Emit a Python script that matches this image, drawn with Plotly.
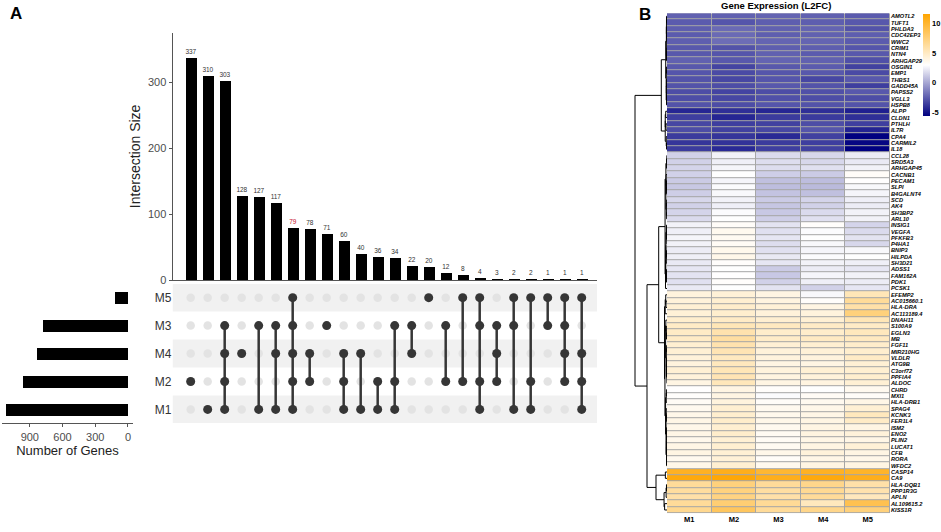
import numpy as np
import plotly.graph_objects as go

W, H = 941, 532
FONT = "Liberation Sans, Arial, sans-serif"

# ---------------- panel A : UpSet data ----------------
set_names = ["M1", "M2", "M4", "M3", "M5"]          # matrix rows, bottom -> top
set_size = [1115, 958, 832, 776, 118]

intersections = [
    ["M2"], ["M1"], ["M1", "M2", "M3", "M4"], ["M4"], ["M1", "M3"], ["M1", "M3", "M4"],
    ["M1", "M2", "M3", "M4", "M5"], ["M2", "M4"], ["M3"], ["M1", "M2", "M4"], ["M1", "M4"],
    ["M1", "M2"], ["M1", "M2", "M3"], ["M3", "M4"], ["M5"], ["M2", "M3"], ["M2", "M5"],
    ["M1", "M2", "M3", "M5"], ["M2", "M3", "M4"], ["M1", "M3", "M5"], ["M1", "M2", "M5"],
    ["M3", "M5"], ["M2", "M3", "M4", "M5"], ["M1", "M2", "M4", "M5"],
]
intersection_size = [337, 310, 303, 128, 127, 117, 79, 78, 71, 60, 40, 36,
                     34, 22, 20, 12, 8, 4, 3, 2, 2, 1, 1, 1]
highlight = 6          # the shared-by-all intersection, label in red

# ---------------- panel B : heatmap data ----------------
genes = [
    "AMOTL2", "TUFT1", "PHLDA3", "CDC42EP3", "WWC2", "CRIM1", "NTN4", "ARHGAP29",
    "OSGIN1", "EMP1", "THBS1", "GADD45A", "PAPSS2", "VGLL3", "HSPB8", "ALPP",
    "CLDN1", "PTHLH", "IL7R", "CPA4", "CARMIL2", "IL18", "CCL28", "SRD5A3",
    "ARHGAP45", "CACNB1", "PECAM1", "SLPI", "B4GALNT4", "SCD", "AK4", "SH3BP2",
    "ARL10", "INSIG1", "VEGFA", "PFKFB3", "P4HA1", "BNIP3", "HILPDA", "SH3D21",
    "ADSS1", "FAM162A", "PDK1", "PCSK1", "EFEMP2", "AC015660.1", "HLA-DRA",
    "AC113189.4", "DNAH11", "S100A9", "EGLN3", "MB", "FGF11", "MIR210HG", "VLDLR",
    "ATG9B", "C3orf72", "PPFIA4", "ALDOC", "CHRD", "MXI1", "HLA-DRB1", "SPAG4",
    "KCNK3", "FER1L4", "ISM2", "ENO2", "PLIN2", "LUCAT1", "CFB", "RORA", "WFDC2",
    "CASP14", "CA9", "HLA-DQB1", "PPP1R3G", "APLN", "AL109615.2", "KISS1R",
]
samples = ["M1", "M2", "M3", "M4", "M5"]

l2fc_M1 = [-2.3, -2.5, -2.4, -2.5, -2.4, -2.6, -2.6, -2.3, -2.6, -2.7, -2.8, -2.8,
           -3.0, -3.0, -2.8, -4.3, -3.5, -3.2, -3.0, -3.6, -3.8, -3.6,
           1.5, 1.5, 1.6, 1.5, 1.3, 1.2, 1.4, 1.7, 1.5, 1.6, 1.8, 2.6, 2.5, 2.7, 2.6,
           2.4, 2.5, 2.3, 2.2, 2.1, 2.0, 2.3,
           4.2, 4.3, 4.5, 4.4, 4.7, 5.0, 5.0, 5.0, 4.6, 4.5, 4.3, 4.2, 4.5, 4.3, 4.0,
           3.1, 3.2, 3.4, 3.6, 3.8, 3.9, 3.8, 3.9, 3.7, 3.9, 4.0, 3.6, 3.8,
           10.5, 11.3, 6.5, 6.3, 6.0, 6.5, 6.8]
l2fc_M2 = [-2.3, -2.7, -2.0, -2.0, -1.9, -2.8, -2.7, -2.6, -3.3, -3.1, -3.2, -3.0,
           -3.3, -3.2, -3.0, -4.0, -4.3, -3.5, -3.4, -3.8, -3.9, -4.2,
           2.6, 2.5, 2.7, 3.0, 2.7, 2.9, 2.8, 2.6, 2.5, 2.9, 3.0, 3.3, 3.6, 3.5, 3.4,
           3.7, 3.8, 3.2, 3.0, 3.1, 3.2, 3.0,
           4.4, 4.6, 4.8, 4.7, 5.0, 5.5, 5.8, 6.2, 5.8, 5.6, 5.2, 5.3, 5.5, 5.6, 5.4,
           4.0, 4.0, 4.2, 4.6, 4.7, 4.8, 4.6, 4.8, 4.5, 4.6, 4.5, 4.4, 4.6,
           10.8, 11.5, 7.5, 7.4, 7.3, 7.8, 8.5]
l2fc_M3 = [-2.2, -2.4, -2.3, -2.4, -2.2, -2.4, -2.3, -2.2, -2.6, -2.7, -2.7, -2.6,
           -3.0, -2.9, -2.7, -4.3, -3.6, -3.4, -3.2, -4.2, -3.6, -3.5,
           1.8, 1.9, 1.9, 1.4, 0.9, 0.8, 1.0, 1.3, 1.1, 1.2, 1.4, 2.1, 2.0, 2.2, 1.9,
           2.0, 2.3, 2.2, 1.3, 1.2, 1.5, 2.1,
           4.0, 4.1, 4.4, 4.3, 4.6, 5.2, 4.8, 4.9, 4.5, 4.3, 4.2, 4.0, 4.2, 4.1, 4.0,
           3.2, 2.9, 3.3, 3.6, 3.7, 3.8, 3.6, 3.5, 3.4, 3.5, 3.8, 3.3, 3.6,
           10.0, 10.8, 6.5, 6.2, 6.0, 6.6, 6.5]
l2fc_M4 = [-2.3, -2.4, -2.2, -2.3, -2.2, -2.4, -2.5, -2.3, -2.5, -2.6, -3.2, -2.8,
           -2.9, -3.0, -2.8, -4.0, -3.6, -3.0, -2.7, -3.4, -3.5, -3.4,
           1.7, 1.7, 2.0, 1.3, 0.8, 0.7, 0.9, 1.6, 1.5, 1.8, 2.0, 3.2, 2.9, 3.0, 2.8,
           2.7, 2.9, 2.6, 2.4, 2.7, 2.5, 1.5,
           2.8, 3.2, 4.0, 4.2, 4.5, 5.0, 4.8, 5.1, 4.6, 4.4, 4.2, 4.0, 4.5, 4.3, 4.1,
           3.0, 3.4, 3.6, 3.8, 3.9, 4.0, 4.0, 4.1, 3.9, 4.0, 4.3, 3.9, 4.0,
           10.5, 11.3, 7.0, 6.7, 6.5, 5.3, 7.0]
l2fc_M5 = [-2.5, -2.6, -2.8, -2.4, -2.5, -2.7, -2.6, -2.9, -3.4, -3.1, -2.6, -3.5,
           -2.6, -3.0, -2.8, -4.5, -4.0, -3.5, -4.4, -5.6, -5.4, -5.6,
           2.4, 2.3, 2.6, 3.3, 3.1, 2.8, 2.7, 2.5, 2.4, 2.6, 2.6, 1.6, 1.8, 2.1, 1.7,
           2.8, 3.0, 2.5, 2.2, 2.6, 2.4, 2.2,
           5.5, 6.5, 6.0, 7.5, 5.5, 5.0, 5.3, 5.2, 4.8, 4.7, 5.0, 4.5, 4.6, 4.7, 4.5,
           3.6, 3.3, 3.9, 4.5, 5.3, 5.0, 4.0, 4.3, 3.9, 4.4, 4.0, 3.8, 4.0,
           10.3, 10.8, 6.0, 5.8, 5.3, 9.0, 7.5]

# row dendrogram: (merge height, left, right); (start, stop) = block of rows
# clustered below. Heights, in dendrogram units.
row_tree = (32.0,
            (5.7, (0, 15), (15, 22)),
            (20.0,
             (8.3, (22, 44), (44, 72)),
             (11.0, (72, 74), (74, 79))))

expr = np.column_stack([l2fc_M1, l2fc_M2, l2fc_M3, l2fc_M4, l2fc_M5])
n_genes = len(genes)


def px_x(a, b):
    return [a / W, b / W]


def px_y(top, bottom):
    return [1 - bottom / H, 1 - top / H]


# ---- dendrogram helpers (contiguous average linkage inside each block) ----
def avg_dist(a, b):
    return float(np.mean([np.linalg.norm(expr[i] - expr[j]) for i in a for j in b]))


def block_tree(lo, hi):
    nodes = [{"rows": [i], "h": 0.0, "kids": None} for i in range(lo, hi)]
    while len(nodes) > 1:
        d = [avg_dist(nodes[k]["rows"], nodes[k + 1]["rows"]) for k in range(len(nodes) - 1)]
        k = int(np.argmin(d))
        merged = {"rows": nodes[k]["rows"] + nodes[k + 1]["rows"], "h": d[k],
                  "kids": (nodes[k], nodes[k + 1])}
        nodes[k:k + 2] = [merged]
    return nodes[0]


def scale_tree(node, f):
    node["h"] *= f
    if node["kids"]:
        for c in node["kids"]:
            scale_tree(c, f)


def make_tree(spec):
    if len(spec) == 2:
        return block_tree(*spec)
    h, left, right = spec
    a, b = make_tree(left), make_tree(right)
    for c in (a, b):
        if c["h"] > 0.8 * h:
            scale_tree(c, 0.8 * h / c["h"])
    return {"rows": a["rows"] + b["rows"], "h": h, "kids": (a, b)}


def place(node):
    if not node["kids"]:
        node["y"] = float(node["rows"][0])
    else:
        a, b = node["kids"]
        node["y"] = (place(a) + place(b)) / 2
    return node["y"]


def segments(node, xs, ys):
    if not node["kids"]:
        return
    a, b = node["kids"]
    xs += [a["h"], node["h"], node["h"], b["h"], None]
    ys += [a["y"], a["y"], b["y"], b["y"], None]
    segments(a, xs, ys)
    segments(b, xs, ys)


root = make_tree(row_tree)
place(root)
dx, dy = [], []
segments(root, dx, dy)

fig = go.Figure()

# ---- intersection size bars ----
cols = list(range(len(intersection_size)))
label_col = ["#c8102e" if i == highlight else "#333333" for i in cols]
fig.add_trace(go.Bar(
    x=cols, y=intersection_size, width=0.63, marker=dict(color="black", line_width=0),
    text=[str(v) for v in intersection_size], textposition="outside",
    textfont=dict(size=6.5, color=label_col, family=FONT),
    outsidetextfont=dict(size=6.5, color=label_col, family=FONT), constraintext="none",
    cliponaxis=False, xaxis="x", yaxis="y", showlegend=False, hoverinfo="skip",
))

# ---- matrix dots ----
row_of = {s: i for i, s in enumerate(set_names)}
off_x, off_y, on_x, on_y, lx, ly = [], [], [], [], [], []
for c, members in enumerate(intersections):
    rows = [row_of[m] for m in members]
    for s in set_names:
        if s in members:
            on_x.append(c); on_y.append(row_of[s])
        else:
            off_x.append(c); off_y.append(row_of[s])
    if len(rows) > 1:
        lx += [c, c, None]
        ly += [min(rows), max(rows), None]

fig.add_trace(go.Scatter(x=off_x, y=off_y, mode="markers", xaxis="x2", yaxis="y2",
                         marker=dict(size=8.5, color="#e3e3e3"), showlegend=False, hoverinfo="skip"))
fig.add_trace(go.Scatter(x=lx, y=ly, mode="lines", xaxis="x2", yaxis="y2",
                         line=dict(color="#363636", width=2.5), showlegend=False, hoverinfo="skip"))
fig.add_trace(go.Scatter(x=on_x, y=on_y, mode="markers", xaxis="x2", yaxis="y2",
                         marker=dict(size=9, color="#363636"), showlegend=False, hoverinfo="skip"))

# ---- set size bars ----
fig.add_trace(go.Bar(
    x=set_size, y=list(range(len(set_names))), orientation="h", width=0.44,
    marker=dict(color="black", line_width=0), xaxis="x3", yaxis="y3",
    showlegend=False, hoverinfo="skip",
))

# ---- heatmap ----
fig.add_trace(go.Heatmap(
    z=expr, x=list(range(len(samples))), y=list(range(n_genes)),
    colorscale=[[0, "#000080"], [0.5, "#ffffff"], [1, "#ffa500"]],
    zmin=-5.6, zmax=11.7, xgap=1, ygap=1, xaxis="x4", yaxis="y4",
    colorbar=dict(x=922.5 / W, xanchor="left", y=1 - 14 / H, yanchor="top",
                  len=103 / H, lenmode="fraction", thickness=7, outlinewidth=0,
                  xpad=0, ypad=0, ticks="", tickvals=[-5, 0, 5, 10],
                  ticktext=["<b>-5</b>", "<b>0</b>", "<b>5</b>", "<b>10</b>"],
                  tickfont=dict(size=7.5, color="black", family=FONT)),
    hovertemplate="%{z}<extra></extra>",
))

# ---- dendrogram ----
fig.add_trace(go.Scatter(x=dx, y=dy, mode="lines", xaxis="x5", yaxis="y5",
                         line=dict(color="black", width=1), showlegend=False, hoverinfo="skip"))

top_x = px_x(172.5, 597)
xr = [-1.07, 23.9]
mat_y = px_y(286.9, 428.2)
heat_y = px_y(13.3, 519)

fig.update_layout(
    width=W, height=H, margin=dict(l=0, r=0, t=0, b=0),
    paper_bgcolor="white", plot_bgcolor="white",
    font=dict(family=FONT, color="black"),
    bargap=0,
    xaxis=dict(domain=top_x, range=xr, anchor="y", showticklabels=False, ticks="",
               showgrid=False, zeroline=False, showline=True, linecolor="#555", linewidth=1),
    yaxis=dict(domain=px_y(33, 283.3), range=[0, 375], anchor="x", showgrid=False,
               zeroline=False, showline=True, linecolor="#555", linewidth=1,
               ticks="outside", ticklen=3, tickcolor="#555", tickvals=[0, 100, 200, 300],
               tickfont=dict(size=11, color="#4d4d4d"),
               title=dict(text="Intersection Size", font=dict(size=14, color="#222"), standoff=4)),
    xaxis2=dict(domain=top_x, range=xr, anchor="y2", visible=False),
    yaxis2=dict(domain=mat_y, range=[-0.5, 4.5], anchor="x2", showgrid=False, zeroline=False,
                tickvals=list(range(len(set_names))), ticktext=set_names, ticks="",
                tickfont=dict(size=12, color="#333")),
    xaxis3=dict(domain=px_x(2, 133), range=[1155, -46], anchor="y3", showgrid=False,
                zeroline=False, showline=True, linecolor="#555", linewidth=1,
                ticks="outside", ticklen=3, tickcolor="#555", tickvals=[0, 300, 600, 900],
                tickfont=dict(size=11, color="#4d4d4d"),
                title=dict(text="Number of Genes", font=dict(size=13, color="#222"), standoff=3)),
    yaxis3=dict(domain=mat_y, range=[-0.5, 4.5], anchor="x3", visible=False),
    xaxis4=dict(domain=px_x(667, 890), range=[-0.5, 4.5], anchor="y4", showgrid=False,
                zeroline=False, tickvals=list(range(len(samples))),
                ticktext=["<b>%s</b>" % s for s in samples], ticks="",
                tickfont=dict(size=7.5, color="black")),
    yaxis4=dict(domain=heat_y, range=[n_genes - 0.5, -0.5], anchor="x4", side="right",
                showgrid=False, zeroline=False, tickvals=list(range(n_genes)),
                ticktext=["<b><i>%s</i></b>" % g for g in genes], ticks="",
                tickfont=dict(size=5.7, color="black")),
    xaxis5=dict(domain=px_x(634, 667), range=[33, 0], anchor="y5", visible=False),
    yaxis5=dict(domain=heat_y, range=[n_genes - 0.5, -0.5], anchor="x5", visible=False),
)

# row bands behind the matrix
for s in ["M5", "M4", "M1"]:
    i = row_of[s]
    fig.add_shape(type="rect", xref="x2", yref="y2", x0=xr[0], x1=xr[1], y0=i - 0.5, y1=i + 0.5,
                  fillcolor="#f1f1f1", line_width=0, layer="below")
# grey cell borders of the heatmap
fig.add_shape(type="rect", xref="x4", yref="y4", x0=-0.5, x1=4.5, y0=-0.5, y1=n_genes - 0.5,
              fillcolor="#a6a6a6", line_width=0, layer="below")

fig.add_annotation(x=16 / W, y=1 - 14 / H, xref="paper", yref="paper", text="<b>A</b>",
                   xanchor="center", yanchor="middle", showarrow=False,
                   font=dict(size=17, color="black"))
fig.add_annotation(x=645 / W, y=1 - 15 / H, xref="paper", yref="paper", text="<b>B</b>",
                   xanchor="center", yanchor="middle", showarrow=False,
                   font=dict(size=17, color="black"))
fig.add_annotation(x=776 / W, y=1 - 6 / H, xref="paper", yref="paper",
                   text="<b>Gene Expression (L2FC)</b>", xanchor="center", yanchor="middle",
                   showarrow=False, font=dict(size=9.5, color="black"))

fig.write_html("out.html", config={"displayModeBar": False},
               post_script="document.body.style.margin = '0px';")
